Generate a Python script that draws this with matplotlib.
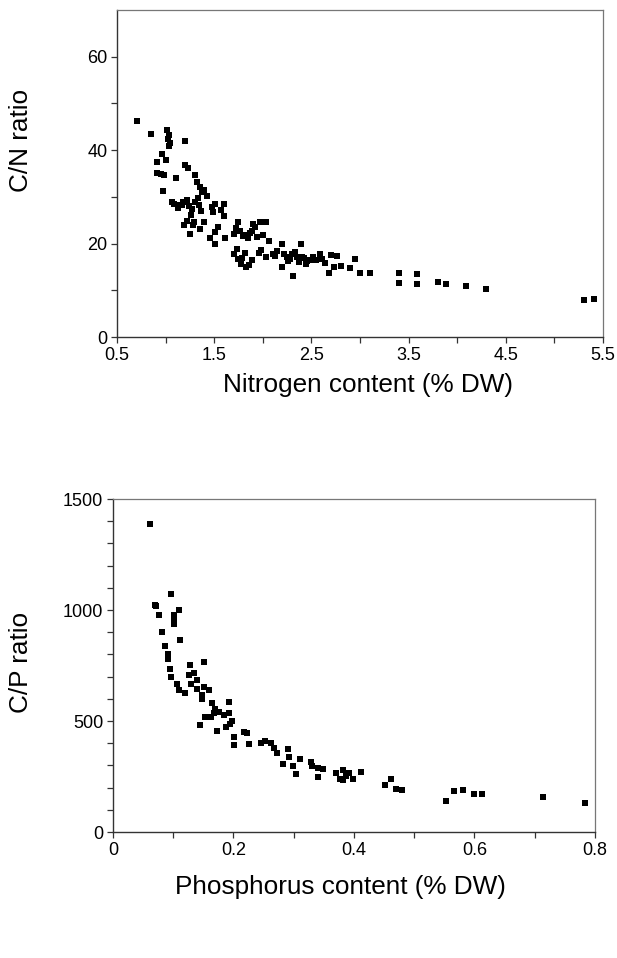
import matplotlib.pyplot as plt
import numpy as np

plt.rcParams['font.family'] = ['Liberation Sans', 'DejaVu Sans']

# C/N ratio vs nitrogen content
n_content = [0.71, 0.85, 1.01, 1.03, 1.05, 1.04, 1.20, 0.96, 1.00, 0.91, 0.91, 0.95, 0.98,
             1.11, 0.97, 1.20, 1.23, 1.30, 1.32, 1.35, 1.40, 1.37, 1.09, 1.15, 1.18, 1.22,
             1.27, 1.30, 1.34, 1.51, 1.49, 1.60, 1.60, 1.22, 1.29, 1.35, 1.25, 1.40, 1.54,
             1.51, 1.46, 1.51, 1.61, 1.75, 1.70, 1.77, 1.82, 1.85, 1.90, 1.97, 2.03, 1.89,
             1.94, 2.06, 1.70, 1.74, 1.78, 1.83, 1.82, 1.89, 1.96, 2.03, 2.10, 2.15, 2.20,
             2.22, 2.25, 2.30, 2.35, 2.39, 2.20, 2.31, 2.40, 2.44, 2.49, 2.52, 2.59, 2.61,
             2.70, 2.68, 2.73, 2.80, 2.90, 2.95, 3.00, 3.10, 3.40, 3.40, 3.59, 3.59, 3.80,
             3.89, 4.09, 4.30, 5.30, 5.41,
             1.02, 1.07, 1.13, 1.17, 1.26, 1.33, 1.36, 1.43, 1.48, 1.57, 1.72, 1.80, 1.87,
             1.92, 2.00, 1.79, 1.86, 2.28, 2.33, 2.37, 2.42, 2.46, 2.55, 2.64, 2.76, 2.26,
             2.13, 1.98, 1.73, 1.28, 1.24, 1.19]
cn_ratio = [46.2, 43.5, 44.4, 43.2, 41.6, 40.8, 41.9, 39.1, 37.9, 37.5, 35.1, 34.8, 34.6,
            34.1, 31.3, 36.8, 36.1, 34.6, 33.2, 32.1, 31.4, 31.0, 28.4, 28.2, 28.9, 29.3,
            27.5, 28.9, 28.2, 28.5, 26.7, 28.5, 26.0, 24.9, 24.6, 23.2, 22.1, 24.6, 23.5,
            22.5, 21.1, 20.0, 21.1, 24.6, 22.1, 22.8, 21.8, 21.3, 24.3, 24.6, 24.6, 22.8,
            21.4, 20.5, 17.8, 16.8, 15.7, 15.0, 18.0, 16.4, 18.0, 17.1, 17.8, 18.5, 19.9,
            17.8, 17.1, 17.8, 17.1, 19.9, 15.0, 13.1, 17.1, 15.7, 16.4, 17.1, 17.8, 16.8,
            17.5, 13.8, 15.0, 15.3, 14.7, 16.6, 13.8, 13.7, 13.8, 11.6, 13.4, 11.3, 11.8,
            11.3, 11.0, 10.2, 7.9, 8.2,
            42.5, 29.0, 27.6, 28.3, 26.2, 29.8, 27.0, 30.2, 27.9, 27.3, 23.3, 21.7, 22.3,
            23.6, 21.9, 17.0, 15.5, 16.6, 18.3, 16.0, 16.9, 16.2, 16.5, 15.9, 17.3, 16.3,
            17.4, 18.6, 18.9, 23.9, 28.0, 24.0]

# C/P ratio vs phosphorus content
p_content = [0.062, 0.097, 0.070, 0.072, 0.076, 0.110, 0.101, 0.101, 0.101, 0.082, 0.112,
             0.087, 0.091, 0.092, 0.094, 0.097, 0.106, 0.110, 0.120, 0.128, 0.127, 0.135,
             0.129, 0.139, 0.151, 0.139, 0.148, 0.151, 0.159, 0.148, 0.164, 0.170, 0.176,
             0.192, 0.167, 0.153, 0.145, 0.162, 0.184, 0.192, 0.198, 0.187, 0.172, 0.194,
             0.201, 0.201, 0.217, 0.222, 0.226, 0.245, 0.253, 0.262, 0.267, 0.273, 0.283,
             0.290, 0.292, 0.299, 0.303, 0.311, 0.329, 0.331, 0.340, 0.340, 0.349, 0.370,
             0.376, 0.381, 0.381, 0.392, 0.398, 0.411, 0.386, 0.451, 0.461, 0.470, 0.480,
             0.552, 0.566, 0.581, 0.600, 0.612, 0.713, 0.784]
cp_ratio = [1389, 1071, 1021, 1017, 976, 1002, 979, 957, 939, 902, 867, 839, 801, 778,
            733, 699, 669, 639, 627, 754, 706, 717, 669, 684, 766, 642, 616, 652, 639, 601,
            582, 556, 541, 586, 534, 516, 481, 519, 526, 534, 501, 474, 456, 487, 429, 391,
            451, 444, 395, 402, 411, 399, 377, 354, 306, 372, 339, 297, 261, 327, 316, 297,
            288, 249, 286, 264, 241, 279, 234, 264, 241, 269, 252, 212, 237, 192, 188, 141,
            186, 189, 171, 171, 159, 132]

fig = plt.figure(figsize=(6.17, 9.58), dpi=100)
ax1 = fig.add_axes([0.1896, 0.6482, 0.7877, 0.3413])
ax2 = fig.add_axes([0.1831, 0.1315, 0.7812, 0.3476])

for ax in (ax1, ax2):
    for side in ('left', 'bottom'):
        ax.spines[side].set_color('#333333')
        ax.spines[side].set_linewidth(1.0)
    for side in ('top', 'right'):
        ax.spines[side].set_color('#777777')
        ax.spines[side].set_linewidth(0.9)
    ax.tick_params(which='both', direction='out', length=4, width=0.9,
                   color='#333333', labelsize=13, pad=3)

ax1.scatter(n_content, cn_ratio, marker='s', s=22, c='black', linewidths=0)
ax1.set_xlim(0.5, 5.5)
ax1.set_ylim(0, 70)
ax1.set_xticks(np.arange(0.5, 5.6, 1.0))
ax1.set_xticks(np.arange(1.0, 5.1, 1.0), minor=True)
ax1.set_xticklabels(['0.5', '1.5', '2.5', '3.5', '4.5', '5.5'])
ax1.set_yticks([0, 20, 40, 60])
ax1.set_yticks([10, 30, 50], minor=True)
ax1.set_xlabel('Nitrogen content (% DW)', fontsize=18.8)
ax1.set_ylabel('C/N ratio', fontsize=18.8)
ax1.xaxis.set_label_coords(0.516, -0.110)
ax1.yaxis.set_label_coords(-0.173, 0.60)

ax2.scatter(p_content, cp_ratio, marker='s', s=22, c='black', linewidths=0)
ax2.set_xlim(0, 0.8)
ax2.set_ylim(0, 1500)
ax2.set_xticks([0, 0.2, 0.4, 0.6, 0.8])
ax2.set_xticklabels(['0', '0.2', '0.4', '0.6', '0.8'])
ax2.set_xticks([0.1, 0.3, 0.5, 0.7], minor=True)
ax2.set_yticks([0, 500, 1000, 1500])
ax2.set_yticks([y for y in range(100, 1500, 100) if y % 500], minor=True)
ax2.set_xlabel('Phosphorus content (% DW)', fontsize=18.8)
ax2.set_ylabel('C/P ratio', fontsize=18.8)
ax2.xaxis.set_label_coords(0.471, -0.129)
ax2.yaxis.set_label_coords(-0.166, 0.51)

fig.savefig('out.png', dpi=100)
